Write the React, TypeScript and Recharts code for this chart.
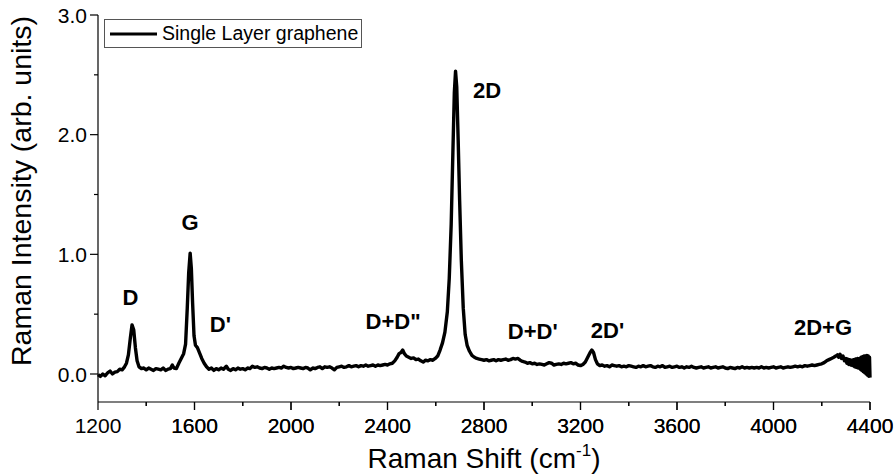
import {
  LineChart,
  Line,
  XAxis,
  YAxis,
  ReferenceDot,
  Legend,
} from "recharts";

// Raman shift (cm^-1) and intensity (arb. units)
const shift: number[] = [
  1200, 1210, 1220, 1230, 1240, 1250, 1260, 1270, 1280, 1290, 1300, 1310, 1318, 1326, 1334, 1341, 1348, 1355, 1362, 1370,
  1380, 1390, 1400, 1410, 1420, 1430, 1440, 1450, 1460, 1470, 1480, 1490, 1500, 1508, 1515, 1525, 1535, 1545, 1555, 1563,
  1570, 1576, 1582, 1587, 1592, 1598, 1604, 1612, 1620, 1630, 1640, 1650, 1660, 1670, 1680, 1690, 1700, 1710, 1720, 1732,
  1740, 1750, 1760, 1770, 1780, 1790, 1800, 1810, 1820, 1830, 1840, 1850, 1860, 1870, 1880, 1890, 1900, 1910, 1920, 1930,
  1940, 1950, 1960, 1970, 1980, 1990, 2000, 2010, 2020, 2030, 2040, 2050, 2060, 2070, 2080, 2090, 2100, 2110, 2120, 2130,
  2140, 2150, 2160, 2170, 2180, 2190, 2200, 2210, 2220, 2230, 2240, 2250, 2260, 2270, 2280, 2290, 2300, 2310, 2320, 2330,
  2340, 2350, 2360, 2370, 2380, 2390, 2400, 2410, 2420, 2430, 2440, 2448, 2456, 2463, 2470, 2478, 2488, 2498, 2508, 2518,
  2528, 2538, 2548, 2558, 2568, 2578, 2588, 2598, 2608, 2618, 2628, 2638, 2648, 2656, 2664, 2671, 2677, 2682, 2687, 2693,
  2699, 2706, 2714, 2722, 2730, 2740, 2750, 2760, 2770, 2780, 2790, 2800, 2810, 2820, 2830, 2840, 2850, 2860, 2870, 2880,
  2890, 2900, 2910, 2920, 2930, 2940, 2950, 2960, 2970, 2980, 2990, 3000, 3010, 3020, 3030, 3040, 3050, 3060, 3070, 3080,
  3090, 3100, 3110, 3120, 3130, 3140, 3150, 3160, 3170, 3180, 3190, 3200, 3210, 3220, 3230, 3240, 3247, 3254, 3262, 3270,
  3280, 3290, 3300, 3310, 3320, 3330, 3340, 3350, 3360, 3370, 3380, 3390, 3400, 3410, 3420, 3430, 3440, 3450, 3460, 3470,
  3480, 3490, 3500, 3510, 3520, 3530, 3540, 3550, 3560, 3570, 3580, 3590, 3600, 3610, 3620, 3630, 3640, 3650, 3660, 3670,
  3680, 3690, 3700, 3710, 3720, 3730, 3740, 3750, 3760, 3770, 3780, 3790, 3800, 3810, 3820, 3830, 3840, 3850, 3860, 3870,
  3880, 3890, 3900, 3910, 3920, 3930, 3940, 3950, 3960, 3970, 3980, 3990, 4000, 4010, 4020, 4030, 4040, 4050, 4060, 4070,
  4080, 4090, 4100, 4110, 4120, 4130, 4140, 4150, 4160, 4170, 4180, 4190, 4200, 4210, 4220, 4230, 4240, 4250, 4258, 4265,
  4270, 4276, 4282, 4288, 4294, 4300, 4304, 4308, 4312, 4316, 4320, 4324, 4328, 4332, 4336, 4340, 4344, 4348, 4352, 4356,
  4360, 4363, 4366, 4369, 4372, 4375, 4378, 4381, 4384, 4387, 4390, 4393, 4396, 4398, 4400,
];

const intensity: number[] = [
  -0.005, -0.02, 0.0, -0.015, 0.01, 0.025, 0.0, 0.015, 0.02, 0.04, 0.035, 0.06, 0.09, 0.16, 0.3, 0.41, 0.37, 0.22, 0.11, 0.06,
  0.045, 0.05, 0.035, 0.05, 0.04, 0.03, 0.045, 0.04, 0.035, 0.05, 0.03, 0.04, 0.045, 0.075, 0.05, 0.045, 0.09, 0.13, 0.17, 0.25,
  0.55, 0.85, 1.01, 0.88, 0.6, 0.32, 0.24, 0.22, 0.18, 0.13, 0.09, 0.06, 0.04, 0.05, 0.03, 0.045, 0.035, 0.05, 0.04, 0.065,
  0.04, 0.03, 0.045, 0.035, 0.05, 0.04, 0.045, 0.035, 0.05, 0.045, 0.065, 0.055, 0.06, 0.05, 0.045, 0.055, 0.05, 0.04, 0.05, 0.045,
  0.05, 0.055, 0.05, 0.065, 0.055, 0.05, 0.055, 0.045, 0.05, 0.055, 0.05, 0.045, 0.055, 0.05, 0.035, 0.05, 0.045, 0.055, 0.06, 0.045,
  0.06, 0.055, 0.06, 0.05, 0.035, 0.055, 0.06, 0.065, 0.055, 0.06, 0.07, 0.06, 0.065, 0.07, 0.06, 0.07, 0.065, 0.075, 0.065, 0.07,
  0.075, 0.065, 0.075, 0.07, 0.075, 0.08, 0.075, 0.085, 0.09, 0.11, 0.14, 0.17, 0.18, 0.2, 0.17, 0.15, 0.14, 0.13, 0.135, 0.12,
  0.125, 0.11, 0.1, 0.115, 0.11, 0.12, 0.115, 0.13, 0.15, 0.2, 0.26, 0.35, 0.52, 0.8, 1.25, 1.85, 2.35, 2.53, 2.4, 1.95,
  1.45, 0.95, 0.55, 0.33, 0.24, 0.19, 0.155, 0.14, 0.13, 0.125, 0.12, 0.115, 0.12, 0.11, 0.115, 0.12, 0.11, 0.12, 0.115, 0.12,
  0.125, 0.115, 0.12, 0.13, 0.125, 0.13, 0.115, 0.105, 0.1, 0.09, 0.095, 0.085, 0.09, 0.08, 0.085, 0.08, 0.075, 0.085, 0.095, 0.09,
  0.075, 0.08, 0.085, 0.08, 0.09, 0.085, 0.09, 0.095, 0.085, 0.09, 0.075, 0.07, 0.08, 0.1, 0.14, 0.18, 0.2, 0.18, 0.12, 0.085,
  0.07, 0.075, 0.065, 0.07, 0.06, 0.075, 0.07, 0.065, 0.07, 0.06, 0.065, 0.06, 0.07, 0.065, 0.06, 0.055, 0.065, 0.06, 0.07, 0.06,
  0.065, 0.07, 0.06, 0.055, 0.065, 0.06, 0.07, 0.055, 0.06, 0.065, 0.055, 0.06, 0.065, 0.055, 0.06, 0.05, 0.06, 0.055, 0.065, 0.055,
  0.05, 0.055, 0.06, 0.05, 0.055, 0.06, 0.05, 0.055, 0.06, 0.05, 0.055, 0.06, 0.05, 0.045, 0.055, 0.05, 0.045, 0.055, 0.05, 0.06,
  0.05, 0.055, 0.05, 0.055, 0.05, 0.055, 0.05, 0.06, 0.05, 0.055, 0.05, 0.055, 0.06, 0.05, 0.055, 0.06, 0.05, 0.055, 0.06, 0.055,
  0.06, 0.065, 0.06, 0.065, 0.06, 0.07, 0.065, 0.07, 0.075, 0.07, 0.075, 0.08, 0.085, 0.095, 0.11, 0.12, 0.13, 0.14, 0.15, 0.16,
  0.14, 0.165, 0.13, 0.15, 0.11, 0.13, 0.09, 0.125, 0.08, 0.12, 0.075, 0.115, 0.07, 0.12, 0.06, 0.125, 0.055, 0.13, 0.05, 0.13,
  0.04, 0.14, 0.03, 0.145, 0.02, 0.15, 0.01, 0.15, 0.0, 0.155, -0.01, 0.15, -0.02, 0.14, -0.03,
];

const xTicks = [1200, 1400, 1600, 1800, 2000, 2200, 2400, 2600, 2800, 3000, 3200, 3400, 3600, 3800, 4000, 4200, 4400];
const yTicks = [0, 0.5, 1, 1.5, 2, 2.5, 3];

// peak labels and where they sit (data coordinates)
const peakLabels = ["D", "G", "D'", 'D+D"', "2D", "D+D'", "2D'", "2D+G"];
const peakX = [1334, 1582, 1707, 2423, 2813, 3002, 3312, 4205];
const peakY = [0.646, 1.27, 0.42, 0.44, 2.375, 0.36, 0.37, 0.395];

const data = shift.map((x, i) => ({ x, y: intensity[i] }));

const FONT = "'Liberation Sans', Arial, Helvetica, sans-serif";

const XTick = (props: any) => {
  const { x, y, payload } = props;
  const major = payload.value % 400 === 0;
  return (
    <g>
      <line x1={x} y1={y} x2={x} y2={y + (major ? 8 : 4)} stroke="#000" strokeWidth={1.2} />
      {major && (
        <text x={x} y={y + 31} textAnchor="middle" fontSize={21} fontFamily={FONT} fill="#000">
          {payload.value}
        </text>
      )}
    </g>
  );
};

const YTick = (props: any) => {
  const { x, y, payload } = props;
  const major = Number.isInteger(payload.value);
  return (
    <g>
      <line x1={x - (major ? 8 : 4)} y1={y} x2={x} y2={y} stroke="#000" strokeWidth={1.2} />
      {major && (
        <text x={x - 11} y={y} dy="0.36em" textAnchor="end" fontSize={21} fontFamily={FONT} fill="#000">
          {payload.value.toFixed(1)}
        </text>
      )}
    </g>
  );
};

const YTitle = (props: any) => {
  const { viewBox } = props;
  const cx = viewBox.x + 31;
  const cy = viewBox.y + 176;
  return (
    <text
      x={cx}
      y={cy}
      textAnchor="middle"
      transform={`rotate(-90, ${cx}, ${cy})`}
      fontSize={28.5}
      fontFamily={FONT}
      fill="#000"
    >
      Raman Intensity (arb. units)
    </text>
  );
};

const XTitle = (props: any) => {
  const { viewBox } = props;
  const cx = viewBox.x + viewBox.width / 2;
  return (
    <text x={cx} y={viewBox.y + 66} textAnchor="middle" fontSize={28} fontFamily={FONT} fill="#000">
      Raman Shift (cm
      <tspan fontSize={17} dy={-12}>-1</tspan>
      <tspan dy={12}>)</tspan>
    </text>
  );
};

const LegendBox = () => (
  <div
    style={{
      display: "flex",
      alignItems: "center",
      border: "1px solid #555",
      width: 258,
      height: 29,
      boxSizing: "border-box",
      background: "#fff",
      fontFamily: FONT,
      fontSize: 19.5,
      color: "#000",
      whiteSpace: "nowrap",
    }}
  >
    <svg width={47} height={10} style={{ marginLeft: 5, marginRight: 5, flexShrink: 0 }}>
      <line x1={0} y1={5} x2={47} y2={5} stroke="#000" strokeWidth={3} />
    </svg>
    <span>Single Layer graphene</span>
  </div>
);

export default function App() {
  return (
    <div style={{ position: "absolute", left: 0, top: 0, background: "#fff" }}>
      <LineChart width={896} height={476} data={data} margin={{ top: 15, right: 26, left: 0, bottom: 0 }}>
        <XAxis
          dataKey="x"
          type="number"
          domain={[1200, 4400]}
          ticks={xTicks.concat(xTicks.slice(0, -1).map((t) => t + 200)).sort((a, b) => a - b)}
          interval={0}
          height={74}
          tickSize={0}
          tickMargin={0}
          tick={<XTick />}
          axisLine={{ stroke: "#000", strokeWidth: 1.2 }}
          label={<XTitle />}
        />
        <XAxis
          xAxisId="top"
          orientation="top"
          dataKey="x"
          type="number"
          domain={[1200, 4400]}
          height={0}
          tick={false}
          tickLine={false}
          axisLine={{ stroke: "#000", strokeWidth: 1.2 }}
        />
        <YAxis
          type="number"
          domain={[-0.234, 3]}
          ticks={yTicks}
          interval={0}
          width={98}
          tickSize={0}
          tickMargin={0}
          tick={<YTick />}
          axisLine={{ stroke: "#000", strokeWidth: 1.2 }}
          label={<YTitle />}
        />
        <YAxis
          yAxisId="right"
          orientation="right"
          type="number"
          domain={[-0.234, 3]}
          width={0}
          tick={false}
          tickLine={false}
          axisLine={{ stroke: "#000", strokeWidth: 1.2 }}
        />
        <Legend
          layout="vertical"
          align="center"
          verticalAlign="middle"
          content={<LegendBox />}
          wrapperStyle={{ left: 104, top: 19, width: 258 }}
        />
        <Line
          dataKey="y"
          type="linear"
          stroke="#000"
          strokeWidth={3.4}
          strokeLinejoin="round"
          dot={false}
          isAnimationActive={false}
        />
        {peakLabels.map((label, i) => (
          <ReferenceDot
            key={label}
            x={peakX[i]}
            y={peakY[i]}
            r={0}
            fill="none"
            stroke="none"
            label={{
              value: label,
              position: "center",
              fontSize: 22,
              fontWeight: "bold",
              fontFamily: FONT,
              fill: "#000",
            }}
          />
        ))}
      </LineChart>
    </div>
  );
}
